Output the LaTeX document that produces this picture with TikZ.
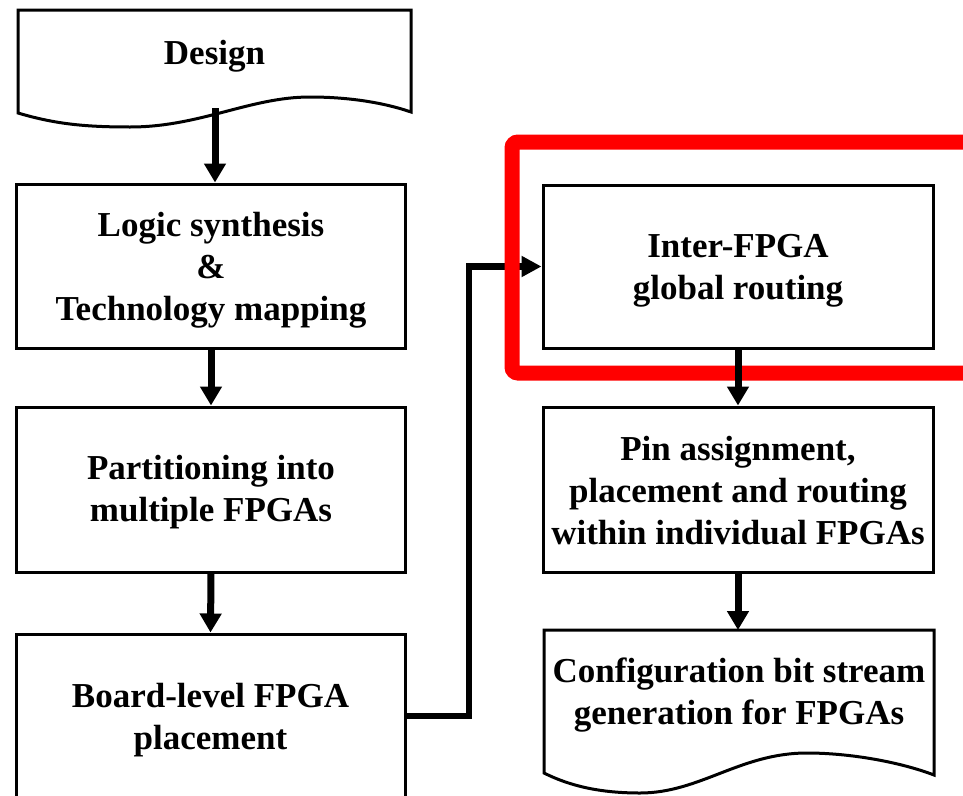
\documentclass[tikz,border=0pt]{standalone}
\usepackage{fontspec}
\setmainfont{Liberation Serif}
\usetikzlibrary{arrows.meta,calc}
\begin{document}
\begin{tikzpicture}[x=1pt,y=-1pt,
  boxfont/.style={font=\fontsize{35}{42}\selectfont\bfseries},
  stepbox/.style={draw=black, line width=3pt, rectangle,
    minimum width=389pt, inner sep=0pt},
  txt/.style={boxfont, inner sep=0pt, align=center},
  outline/.style={draw=black, line width=3pt, line join=miter},
  flow/.style={line width=7pt, -{Triangle[width=21pt,length=19pt]}},
  link/.style={line width=6.5pt, -{Triangle[width=20pt,length=20pt]}},
  frame/.style={draw=red, line width=15pt, rounded corners=6pt}]
\useasboundingbox (0,0) rectangle (963,795);

% document-shaped input and output
\draw[outline] (18,113) -- (18,10) -- (411,10) -- (411,112)
  .. controls (385,103) and (350,97) .. (310,97)
  .. controls (250,97) and (200,127) .. (130,127)
  .. controls (85,127) and (55,124) .. (18,113) -- cycle;
\node[txt] (design) at (214.5,56) {Design};

\draw[outline] (544,773) -- (544,630) -- (934,630) -- (934,775)
  .. controls (900,762) and (850,753) .. (807,753)
  .. controls (740,753) and (700,793) .. (640,793)
  .. controls (600,793) and (570,786) .. (544,773) -- cycle;
\node[txt] (config) at (739,695) {Configuration bit stream\\generation for FPGAs};

% process steps
\node[stepbox, minimum height=164pt] (logic) at (211,266) {};
\node[stepbox, minimum height=165pt] (part) at (211,489.5) {};
\node[stepbox, minimum height=164pt] (board) at (210.5,716) {};
\node[stepbox, minimum width=390pt, minimum height=163pt] (inter) at (738,266.5) {};
\node[stepbox, minimum width=390pt, minimum height=165pt] (pin) at (738,489.5) {};

\node[txt] (logictxt) at ($(logic)+(0,4)$) {Logic synthesis\\\&\\Technology mapping};
\node[txt] (parttxt) at ($(part)+(0,2.5)$) {Partitioning into\\multiple FPGAs};
\node[txt] (boardtxt) at ($(board)+(0,4)$) {Board-level FPGA\\placement};
\node[txt] (intertxt) at ($(inter)+(0,4)$) {Inter-FPGA\\global routing};
\node[txt] (pintxt) at ($(pin)+(0,1)$) {Pin assignment,\\placement and routing\\within individual FPGAs};

% flow
\coordinate (designout) at (215,108);
\coordinate (configin) at (738,630);
\coordinate (bend) at (469,0);
\draw[flow] (designout) -- (designout |- logic.north);
\draw[flow] (logic.south) -- (part.north);
\draw[flow] (part.south) -- (board.north);
\draw[link] (board.east) -- (board.east -| bend) |- (inter.west);

% highlight
\draw[frame] (990,142) -- (512,142) -- (512,373) -- (990,373);

\draw[flow] (inter.south) -- (pin.north);
\draw[flow] (pin.south) -- (configin);
\end{tikzpicture}
\end{document}
